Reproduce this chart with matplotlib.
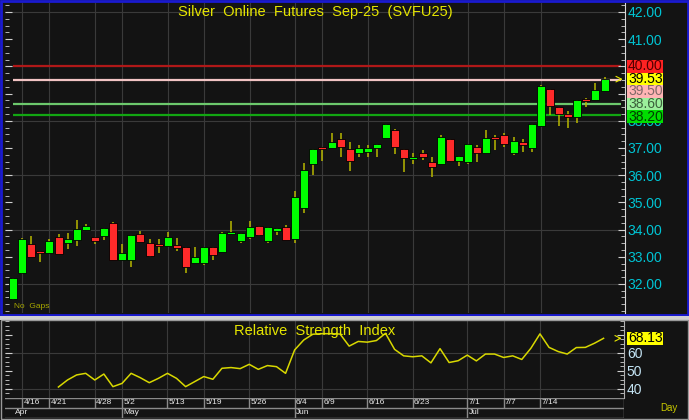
import numpy as np
import matplotlib.pyplot as plt
from matplotlib.patches import Rectangle
from matplotlib.ticker import MultipleLocator, FixedLocator

# daily OHLC (Apr 15 .. Jul 18)
opens = [31.45, 32.40, 33.47, 33.21, 33.14, 33.73, 33.51, 33.62, 33.99, 33.73,
         33.76, 34.24, 32.88, 32.88, 33.84, 33.51, 33.47, 33.40, 33.43, 33.36,
         32.77, 32.77, 33.36, 33.18, 33.84, 33.58, 33.73, 34.13, 33.58, 33.95,
         34.09, 33.65, 34.79, 36.41, 37.04, 37.00, 37.33, 36.96, 36.81, 36.85,
         37.00, 37.37, 37.66, 36.96, 36.60, 36.81, 36.48, 36.41, 37.33, 36.52,
         36.48, 37.04, 36.81, 37.40, 37.48, 36.81, 37.22, 37.00, 37.81, 39.17,
         38.51, 38.25, 38.14, 38.80, 38.76, 39.10]
highs = [32.22, 33.69, 33.76, 33.21, 33.65, 33.84, 33.88, 34.35, 34.20, 33.73,
         34.06, 34.28, 33.47, 33.80, 33.95, 33.65, 33.65, 33.91, 33.69, 33.36,
         33.36, 33.36, 33.36, 33.91, 34.31, 33.88, 34.31, 34.13, 34.09, 34.06,
         34.17, 35.42, 36.45, 36.96, 37.04, 37.55, 37.55, 37.22, 37.10, 37.10,
         37.15, 37.88, 37.70, 36.96, 36.81, 36.92, 36.67, 37.48, 37.33, 36.70,
         37.15, 37.10, 37.66, 37.48, 37.55, 37.40, 37.33, 37.88, 39.32, 39.17,
         38.51, 38.36, 38.76, 38.83, 39.39, 39.60]
lows = [31.41, 32.38, 33.00, 32.81, 33.14, 33.10, 33.29, 33.40, 33.99, 33.47,
        33.62, 32.88, 32.88, 32.62, 33.54, 33.00, 33.14, 33.40, 33.20, 32.40,
        32.77, 32.70, 32.88, 33.18, 33.84, 33.50, 33.65, 33.76, 33.50, 33.80,
        33.62, 33.51, 34.61, 36.00, 36.52, 37.00, 36.67, 36.15, 36.67, 36.67,
        36.67, 37.37, 36.78, 36.11, 36.41, 36.55, 35.93, 36.41, 36.52, 36.33,
        36.40, 36.48, 36.81, 36.92, 37.04, 36.74, 36.85, 36.85, 37.81, 38.21,
        37.81, 37.74, 37.92, 38.51, 38.76, 39.10]
closes = [32.22, 33.65, 33.00, 33.14, 33.58, 33.10, 33.65, 34.02, 34.13, 33.58,
          34.06, 32.88, 33.14, 33.80, 33.54, 33.03, 33.40, 33.73, 33.32, 32.62,
          33.00, 33.36, 33.07, 33.88, 33.91, 33.88, 34.09, 33.80, 34.09, 34.06,
          33.62, 35.20, 36.19, 36.96, 36.96, 37.22, 37.04, 36.52, 37.00, 37.00,
          37.15, 37.88, 37.04, 36.63, 36.67, 36.67, 36.30, 37.40, 36.52, 36.70,
          37.15, 36.81, 37.37, 37.33, 37.15, 37.26, 37.11, 37.88, 39.28, 38.54,
          38.25, 38.14, 38.76, 38.73, 39.13, 39.53]

# RSI starts at bar 5
rsi_start = 5
rsi = [41.1, 45.0, 47.8, 48.7, 45.0, 48.3, 41.3, 43.1, 48.7, 46.3,
       43.5, 45.9, 48.7, 45.9, 41.3, 44.1, 46.9, 45.4, 51.5, 51.9,
       51.3, 53.7, 50.9, 53.0, 52.4, 48.7, 61.7, 67.2, 70.4, 70.7,
       70.7, 70.5, 63.8, 66.4, 66.0, 66.9, 70.9, 62.0, 58.4, 57.9,
       58.4, 54.5, 62.4, 54.7, 55.7, 58.8, 55.6, 59.4, 59.4, 57.5,
       58.4, 56.4, 62.6, 70.6, 63.1, 60.8, 59.4, 63.0, 63.1, 65.4,
       68.13]

day_ticks = [1, 4, 9, 12, 17, 21, 26, 31, 34, 39, 44, 50, 54, 58]
day_labels = ['4/16', '4/21', '4/28', '5/2', '5/13', '5/19', '5/26',
              '6/4', '6/9', '6/16', '6/23', '7/1', '7/7', '7/14']
month_ticks = [-0.9, 12, 31, 50]
month_labels = ['Apr', 'May', 'Jun', 'Jul']

price_ticks = [32, 33, 34, 35, 36, 37, 38, 39, 40, 41, 42]
levels = [40.00, 39.50, 38.60, 38.20]
level_lines = ['#b01818', '#f2c4c4', '#6cc86c', '#12a612']
level_boxes = ['#ff2222', '#ffb4b4', '#9cf09c', '#00dc00']
level_text = ['#500000', '#806868', '#3c603c', '#003c00']
last_price = 39.53
rsi_ticks = [40, 50, 60, 70]
title = 'Silver  Online  Futures  Sep-25  (SVFU25)'

plt.rcParams['font.family'] = ['Liberation Sans', 'DejaVu Sans']

W, H = 689, 420
BG = '#131313'
GRID = '#3a3a3a'
CYAN = '#00c4d4'
YEL = '#e6e600'


def fr(x, y):
    return x / W, 1 - y / H


def box(x0, y0, x1, y1):
    return [x0 / W, 1 - y1 / H, (x1 - x0) / W, (y1 - y0) / H]


def tag(ypx, lab, fc, tc):
    fig.patches.append(Rectangle(fr(627, ypx + 6.3), 36 / W, 12.6 / H,
                                 transform=fig.transFigure, facecolor=fc,
                                 edgecolor='none', zorder=5))
    fig.text(628 / W, 1 - ypx / H, lab, ha='left', va='center', color=tc,
             fontsize=10, zorder=6)


fig = plt.figure(figsize=(W / 100, H / 100), dpi=100, facecolor=BG)

# frames
fig.patches.append(Rectangle(fr(1, 315), 687 / W, 314 / H, transform=fig.transFigure,
                             fill=False, edgecolor='#1a1ad0', lw=2, zorder=0))
fig.patches.append(Rectangle(fr(0, 320), 1, 4 / H, transform=fig.transFigure,
                             facecolor='#d0d0d0', edgecolor='none', zorder=0))
fig.patches.append(Rectangle(fr(1, 419), 687 / W, 99 / H, transform=fig.transFigure,
                             fill=False, edgecolor='#9a9a9a', lw=1, zorder=0))

x_lo, x_hi = -0.88, 67.25
n = len(opens)
idx = np.arange(n)

# ---------------- price panel ----------------
ax = fig.add_axes(box(5, 3, 625, 313))
ax.set_facecolor(BG)
ax.set_xlim(x_lo, x_hi)
ax.set_ylim(30.93, 42.33)

ax.yaxis.tick_right()
ax.yaxis.set_major_locator(FixedLocator(price_ticks))
ax.yaxis.set_minor_locator(MultipleLocator(0.25))
# 39 and 40 sit under the level tags
ax.set_yticklabels(['' if v in (39, 40) else '%.2f' % v for v in price_ticks])
ax.tick_params(axis='y', which='major', direction='in', length=5, color='#d0d0d0',
               labelcolor=CYAN, labelsize=10, pad=2, right=True, left=True,
               labelleft=False, labelright=True)
ax.tick_params(axis='y', which='minor', direction='in', length=3, color='#d0d0d0',
               right=True, left=True)
ax.tick_params(axis='x', bottom=False, labelbottom=False)
for v in price_ticks[::2]:
    ax.axhline(v, color=GRID, lw=0.8, zorder=0)
for t in day_ticks:
    ax.axvline(t, color=GRID, lw=0.8, zorder=0)
for s in ['top', 'bottom', 'left']:
    ax.spines[s].set_visible(False)
ax.spines['right'].set_color('#d8d8d8')

for lv, c in zip(levels, level_lines):
    ax.hlines(lv, 0, 66.8, color=c, lw=1.6, zorder=1)

o = np.array(opens)
c = np.array(closes)
up = c >= o
ax.vlines(idx, lows, highs, color='#b8b800', lw=1.1, zorder=2)
bottoms = np.minimum(o, c)
heights = np.maximum(np.abs(c - o), 0.06)
ax.bar(idx, heights, bottom=bottoms, width=0.88,
       color=np.where(up, '#00ff00', '#ff2a2a'), edgecolor='#000000', lw=0.6, zorder=3)

ax.annotate('', xy=(67.0, last_price), xytext=(66.4, last_price),
            arrowprops=dict(arrowstyle='->', color='#e8e800', lw=0.8))

ax.text(0.5, 0.971, title, transform=ax.transAxes, ha='center', va='center',
        color=YEL, fontsize=10.5)
ax.text(0.014, 0.01, 'No  Gaps', transform=ax.transAxes, ha='left', va='bottom',
        color='#a8a800', fontsize=6)

# right-hand level tags, stacked so they don't overlap
fig.canvas.draw()
marks = [(40.00, '40.00', level_boxes[0], level_text[0]),
         (last_price, '%.2f' % last_price, '#ffff00', '#000000'),
         (39.50, '39.50', level_boxes[1], level_text[1]),
         (38.60, '38.60', level_boxes[2], level_text[2]),
         (38.20, '38.20', level_boxes[3], level_text[3])]
prev = -100
for val, lab, fc, tc in marks:
    ypx = H - ax.transData.transform((0, val))[1]
    ypx = max(ypx, prev + 12.3)
    prev = ypx
    tag(ypx, lab, fc, tc)

# ---------------- RSI panel ----------------
ar = fig.add_axes(box(5, 320, 624, 398))
ar.set_facecolor(BG)
ar.set_xlim(x_lo, x_hi)
ar.set_ylim(35.0, 78.3)
ar.yaxis.tick_right()
ar.yaxis.set_major_locator(FixedLocator(rsi_ticks))
ar.yaxis.set_minor_locator(MultipleLocator(2.5))
ar.set_yticklabels(['' if v == 70 else str(v) for v in rsi_ticks])
ar.tick_params(axis='y', which='major', direction='in', length=5, color='#d0d0d0',
               labelcolor='#c4e4f4', labelsize=10, pad=2, left=True, right=True)
ar.tick_params(axis='y', which='minor', direction='in', length=3, color='#d0d0d0',
               left=True, right=True)
ar.tick_params(axis='x', bottom=False, labelbottom=False)
for s in ['top', 'bottom', 'left']:
    ar.spines[s].set_visible(False)
ar.spines['right'].set_color('#b0b0b0')
for v in [40, 60]:
    ar.axhline(v, color=GRID, lw=0.8, zorder=0)
for t in day_ticks:
    ar.axvline(t, color=GRID, lw=0.8, zorder=0)
ar.plot(np.arange(rsi_start, rsi_start + len(rsi)), rsi, color='#d8d800', lw=1.1)
ar.text(0.5, 0.86, 'Relative  Strength  Index', transform=ar.transAxes,
        ha='center', va='center', color=YEL, fontsize=10.5)
ar.annotate('', xy=(67.0, rsi[-1]), xytext=(66.4, rsi[-1]),
            arrowprops=dict(arrowstyle='->', color='#e8e800', lw=0.8))

fig.canvas.draw()
tag(H - ar.transData.transform((0, rsi[-1]))[1], '%.2f' % rsi[-1], '#ffff00', '#000000')

# ---------------- date strip ----------------
ad = fig.add_axes(box(5, 398, 624, 418))
ad.set_facecolor(BG)
ad.set_xlim(x_lo, x_hi)
ad.set_ylim(0, 2)
ad.axis('off')
sep = '#8a8a8a'
ad.axhline(2, color=sep, lw=1)
ad.axhline(1, color=sep, lw=1)
ad.axhline(0.02, color=sep, lw=1)
ad.axvline(x_hi, color=sep, lw=1)
for t, lab in zip(day_ticks, day_labels):
    ad.vlines(t, 1, 2, color=sep, lw=1)
    ad.text(t + 0.15, 1.5, lab, ha='left', va='center', color='#e8e8e8', fontsize=6)
for t, lab in zip(month_ticks, month_labels):
    if t > x_lo + 0.1:
        ad.vlines(t, 0, 1, color=sep, lw=1)
    ad.text(max(t, x_lo + 0.9) + 0.15, 0.5, lab, ha='left', va='center',
            color='#e8e8e8', fontsize=6)
fig.text(660 / W, 1 - 408 / H, 'Day', ha='left', va='center', color='#c8c800',
         fontsize=7)

fig.savefig('out.png', dpi=100, facecolor=BG)
